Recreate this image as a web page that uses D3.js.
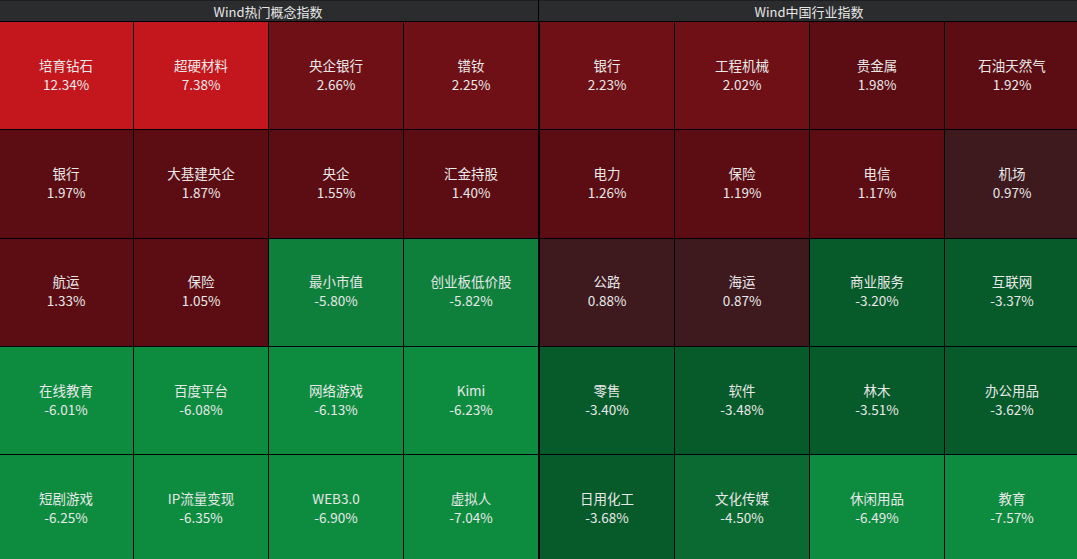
<!DOCTYPE html>
<html><head><meta charset="utf-8">
<script src="https://cdn.jsdelivr.net/npm/d3@7"></script>
<style>
html,body{margin:0;padding:0;background:#000;overflow:hidden}
svg{display:block}
</style></head><body>
<svg id="c" width="1077" height="559"></svg>
<script>
const titleLeft = "Wind热门概念指数";
const titleRight = "Wind中国行业指数";
const namesLeft = ["培育钻石","超硬材料","央企银行","镨钕","银行","大基建央企","央企","汇金持股","航运","保险","最小市值","创业板低价股","在线教育","百度平台","网络游戏","Kimi","短剧游戏","IP流量变现","WEB3.0","虚拟人"];
const valuesLeft = [12.34,7.38,2.66,2.25,1.97,1.87,1.55,1.40,1.33,1.05,-5.80,-5.82,-6.01,-6.08,-6.13,-6.23,-6.25,-6.35,-6.90,-7.04];
const namesRight = ["银行","工程机械","贵金属","石油天然气","电力","保险","电信","机场","公路","海运","商业服务","互联网","零售","软件","林木","办公用品","日用化工","文化传媒","休闲用品","教育"];
const valuesRight = [2.23,2.02,1.98,1.92,1.26,1.19,1.17,0.97,0.88,0.87,-3.20,-3.37,-3.40,-3.48,-3.51,-3.62,-3.68,-4.50,-6.49,-7.57];
const colorBreaks = [-6,-5,-4,0,1,2,5];
const colorRange = ["#0d8c40","#0f7f3c","#0a6a32","#075a2a","#3e191e","#5c0d13","#6e1016","#c3161d"];

const svg = d3.select("#c");
const headerH = 21, gridTop = 22, rowH = 108.3;
const color = d3.scaleThreshold().domain(colorBreaks).range(colorRange);
const nCols = 4, nRows = 5;
const FONT = "'Noto Sans CJK SC','Noto Sans',sans-serif";
const fmt = v => v.toFixed(2) + "%";

function panel(x0, width, title, names, values) {
  const g = svg.append("g");
  g.append("rect").attr("x", x0).attr("y", 0).attr("width", width).attr("height", headerH).attr("fill", "#2b2c2e");
  g.append("rect").attr("x", x0).attr("y", 0).attr("width", width).attr("height", 1).attr("fill", "#1c1e22");
  g.append("text").attr("x", x0 + width/2).attr("y", 11)
    .attr("text-anchor","middle").attr("dominant-baseline","central")
    .attr("fill","#e6e6e6").attr("font-size","13px")
    .attr("font-family",FONT).text(title);
  const xs = d3.scaleBand().domain(d3.range(nCols)).range([x0, x0 + width]);
  const ys = d3.scaleBand().domain(d3.range(nRows)).range([gridTop, gridTop + rowH*nRows]);
  const data = names.map((n,i)=>({name:n, value:values[i], c:i%nCols, r:Math.floor(i/nCols)}));
  const cell = g.selectAll("g.cell").data(data).join("g").attr("class","cell");
  cell.append("rect")
    .attr("x", d => Math.round(xs(d.c)) + 1)
    .attr("y", d => Math.round(ys(d.r)))
    .attr("width", d => Math.round(xs(d.c) + xs.bandwidth()) - Math.round(xs(d.c)) - 1)
    .attr("height", d => Math.round(ys(d.r) + ys.bandwidth()) - Math.round(ys(d.r)) - 1)
    .attr("fill", d => color(d.value));
  const tx = d => xs(d.c) + xs.bandwidth()/2 + 0.5;
  const cy = d => ys(d.r) + ys.bandwidth()/2;
  cell.append("text").attr("x", tx).attr("y", d => cy(d) - 11.5)
    .attr("text-anchor","middle").attr("dominant-baseline","central")
    .attr("fill","#e8e8e8").attr("font-size","13.5px")
    .attr("font-family",FONT).text(d => d.name);
  cell.append("text").attr("x", tx).attr("y", d => cy(d) + 7.5)
    .attr("text-anchor","middle").attr("dominant-baseline","central")
    .attr("fill","#e8e8e8").attr("font-size","13.5px")
    .attr("font-family",FONT).text(d => fmt(d.value));
}
panel(-2, 540, titleLeft, namesLeft, valuesLeft);
panel(539, 540, titleRight, namesRight, valuesRight);
</script>
</body></html>
